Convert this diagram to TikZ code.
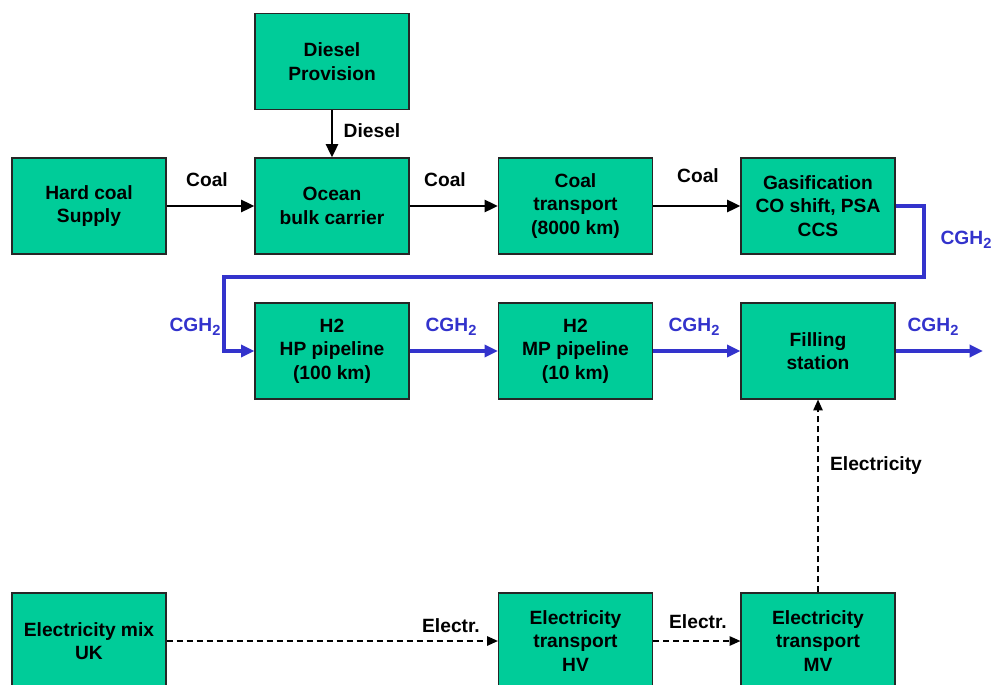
\documentclass[tikz,border=0pt]{standalone}
\usepackage{fontspec}
\setmainfont{Liberation Sans}
\usetikzlibrary{arrows.meta}
\definecolor{boxgreen}{RGB}{0,204,153}
\definecolor{flowblue}{RGB}{51,51,204}
\begin{document}
\begin{tikzpicture}[x=0.75pt, y=-0.75pt,
    font=\fontsize{14.4}{17.7}\selectfont\bfseries,
    chainbox/.style={rectangle, draw=black!85, line width=0.9pt, fill=boxgreen,
        minimum width=115.5pt, minimum height=72pt, align=center, inner sep=2pt},
    coalflow/.style={-{Triangle[length=10pt, width=9pt]}, line width=2.1pt, black},
    gasflow/.style={-{Triangle[length=10pt, width=9pt]}, line width=2.5pt, flowblue},
    elflow/.style={-{Triangle[length=8pt, width=7pt]}, line width=1pt, black, dash pattern=on 4.5pt off 3pt},
    lbl/.style={inner sep=0pt},
    gaslbl/.style={inner sep=0pt, text=flowblue}]
    \useasboundingbox (0,0) rectangle (993,685);
    \clip (0,0) rectangle (993,685);

    % Kohlepfad
    \node[chainbox] (diesel) at (332,61.5) {Diesel\\Provision};
    \node[chainbox] (hardcoal) at (89,206) {Hard coal\\Supply};
    \node[chainbox] (ocean) at (332,206) {Ocean\\bulk carrier};
    \node[chainbox] (coaltrans) at (575.5,206) {Coal\\transport\\(8000 km)};
    \node[chainbox] (gasif) at (818,206) {Gasification\\CO shift, PSA\\CCS};

    \draw[coalflow] (diesel) -- (ocean);
    \draw[coalflow] (hardcoal) -- (ocean);
    \draw[coalflow] (ocean) -- (coaltrans);
    \draw[coalflow] (coaltrans) -- (gasif);
    \node[lbl] at (372,131) {Diesel};
    \node[lbl] at (207,180) {Coal};
    \node[lbl] at (445,180) {Coal};
    \node[lbl] at (698,176) {Coal};

    % Wasserstoffpfad
    \node[chainbox] (hppipe) at (332,351) {H2\\HP pipeline\\(100 km)};
    \node[chainbox] (mppipe) at (575.5,351) {H2\\MP pipeline\\(10 km)};
    \node[chainbox] (filling) at (818,351) {Filling\\station};
    \coordinate (bendR) at (924,277);
    \coordinate (bendL) at (224,277);
    \coordinate (gasout) at (983,351);

    \draw[gasflow] (gasif.east) -| (bendR) -- (bendL) |- (hppipe.west);
    \draw[gasflow] (hppipe) -- (mppipe);
    \draw[gasflow] (mppipe) -- (filling);
    \draw[gasflow] (filling) -- (gasout);
    \node[gaslbl] at (966,240) {CGH\raisebox{-0.35ex}{\fontsize{11}{11}\selectfont 2}};
    \node[gaslbl] at (195,327) {CGH\raisebox{-0.35ex}{\fontsize{11}{11}\selectfont 2}};
    \node[gaslbl] at (451,327) {CGH\raisebox{-0.35ex}{\fontsize{11}{11}\selectfont 2}};
    \node[gaslbl] at (694,327) {CGH\raisebox{-0.35ex}{\fontsize{11}{11}\selectfont 2}};
    \node[gaslbl] at (933,327) {CGH\raisebox{-0.35ex}{\fontsize{11}{11}\selectfont 2}};

    % Strompfad
    \node[chainbox] (elmix) at (89,641) {Electricity mix\\UK};
    \node[chainbox] (elhv) at (575.5,641) {Electricity\\transport\\HV};
    \node[chainbox] (elmv) at (818,641) {Electricity\\transport\\MV};

    \draw[elflow] (elmix) -- (elhv);
    \draw[elflow] (elhv) -- (elmv);
    \draw[elflow] (elmv) -- (filling);
    \node[lbl] at (451,626) {Electr.};
    \node[lbl] at (698,622) {Electr.};
    \node[lbl] at (876,466) {Electricity};
\end{tikzpicture}
\end{document}
